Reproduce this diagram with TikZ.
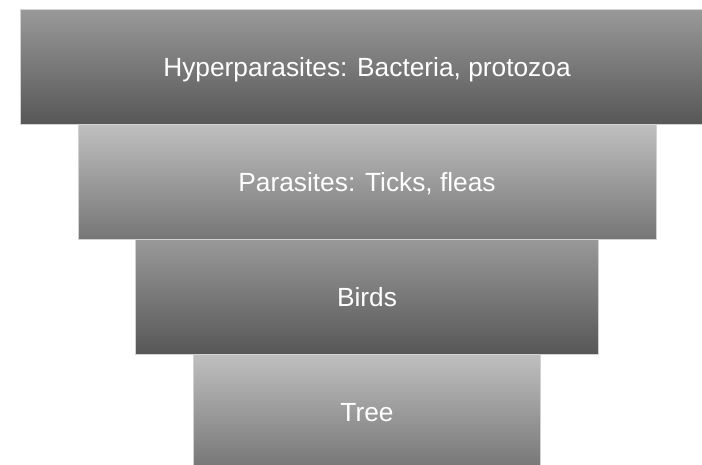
\documentclass[tikz,border=0pt]{standalone}
\usepackage{fontspec}
\setmainfont{Liberation Sans}
\usetikzlibrary{positioning}
\begin{document}
\begin{tikzpicture}[x=1pt, y=-1pt, font=\fontsize{26.3}{30}\selectfont]
        \tikzset{
            bar/.style={rectangle, minimum height=115pt, inner sep=0pt, outer sep=0pt,
                        text depth=0pt, text=white, draw=gray!35, line width=0.5pt},
            darkbar/.style ={bar, top color=black!40, bottom color=black!66},
            lightbar/.style={bar, top color=black!25, bottom color=black!54}
        }
        \useasboundingbox (0,0) rectangle (702,465);
        \clip (0,0) rectangle (702,465);
        %% ---- Levels ----
        \node[darkbar,  minimum width=694pt] (hyper) at (367,67) {Hyperparasites: Bacteria, protozoa};
        \node[lightbar, minimum width=578pt, below=0pt of hyper] (para)  {Parasites: Ticks, fleas};
        \node[darkbar,  minimum width=463pt, below=0pt of para]  (birds) {Birds};
        \node[lightbar, minimum width=347pt, below=0pt of birds] (tree)  {Tree};
    \end{tikzpicture}
\end{document}
